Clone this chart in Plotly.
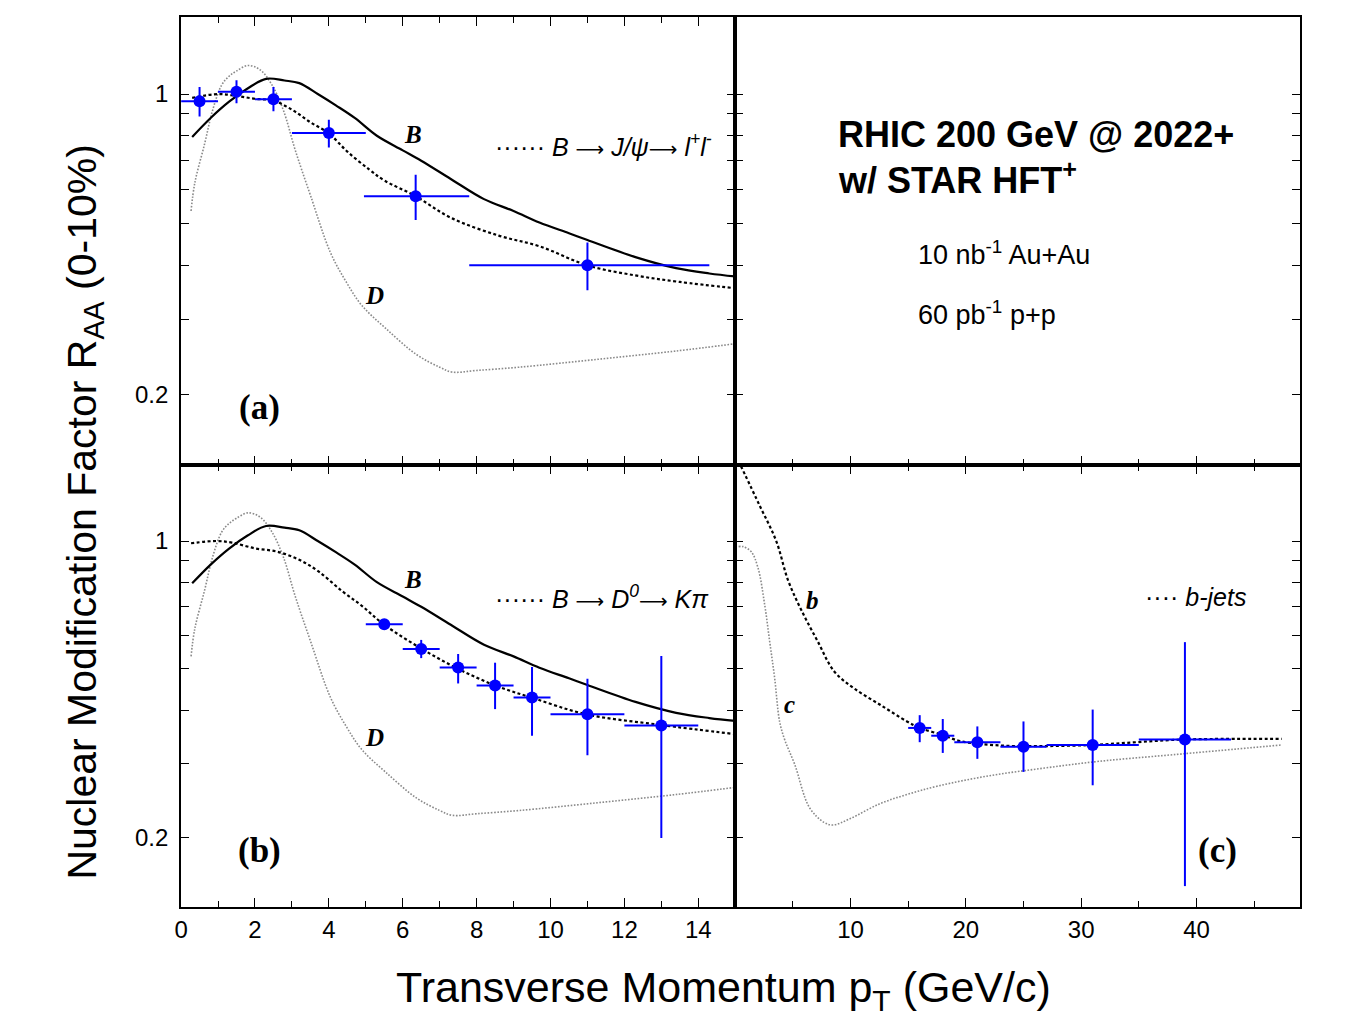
import math
import plotly.graph_objects as go

# ---------------- data ----------------
# theory curves, panels (a) and (b)
b_pt = [0.3, 0.8, 1.3, 1.8, 2.3, 2.8, 3.2, 3.7, 4.2, 4.7, 5.3, 6.0, 6.5, 7.3, 8.2, 9.0, 9.7, 10.5, 11.0, 12.3, 13.4, 14.3, 15.0]
b_raa = [0.795, 0.88, 0.96, 1.03, 1.085, 1.075, 1.06, 1.0, 0.94, 0.88, 0.80, 0.74, 0.70, 0.635, 0.57, 0.535, 0.503, 0.475, 0.458, 0.418, 0.394, 0.383, 0.377]

d_pt = [0.27, 0.37, 0.64, 0.85, 1.1, 1.3, 1.49, 1.81, 2.13, 2.45, 2.77, 3.09, 3.51, 4.04, 4.47, 4.89, 5.53, 6.38, 7.0, 7.34, 8.0, 9.15, 11.28, 13.4, 15.0]
d_raa = [0.535, 0.621, 0.768, 0.915, 1.05, 1.10, 1.13, 1.165, 1.14, 1.054, 0.916, 0.741, 0.579, 0.429, 0.366, 0.323, 0.286, 0.248, 0.232, 0.226, 0.228, 0.232, 0.242, 0.253, 0.263]

jpsi_pt = [0.3, 1.0, 1.5, 2.0, 2.5, 3.0, 3.5, 4.0, 4.5, 5.1, 5.5, 6.35, 7.3, 8.6, 9.7, 11.0, 12.3, 13.5, 15.0]
jpsi_raa = [0.98, 1.0, 0.99, 0.975, 0.965, 0.92, 0.86, 0.81, 0.735, 0.667, 0.63, 0.579, 0.516, 0.469, 0.443, 0.40, 0.379, 0.366, 0.354]

d0_pt = [0.27, 0.96, 1.38, 2.0, 2.6, 3.2, 3.72, 4.36, 4.9, 5.48, 6.49, 7.5, 8.5, 9.52, 10.96, 12.98, 15.0]
d0_raa = [0.988, 1.0, 0.991, 0.961, 0.944, 0.903, 0.848, 0.762, 0.703, 0.637, 0.559, 0.50, 0.457, 0.427, 0.391, 0.369, 0.351]

# theory curves, panel (c)
bjet_pt = [0.5, 2.1, 3.56, 4.57, 5.72, 7.16, 8.59, 10.3, 12.6, 14.9, 16.0, 17.9, 19.5, 23.0, 26.8, 31.0, 34.8, 38.9, 47.4]
bjet_raa = [1.5, 1.215, 1.0, 0.81, 0.689, 0.58, 0.493, 0.45, 0.411, 0.376, 0.363, 0.350, 0.338, 0.330, 0.329, 0.331, 0.336, 0.341, 0.342]

cjet_pt = [0.3, 0.69, 1.4, 1.98, 2.56, 2.99, 3.42, 3.85, 4.3, 5.16, 6.43, 7.7, 8.5, 9.94, 12.5, 15.0, 17.6, 22.0, 26.8, 31.6, 38.0, 47.4]
cjet_raa = [0.97, 0.97, 0.943, 0.864, 0.707, 0.58, 0.476, 0.376, 0.34, 0.298, 0.236, 0.2176, 0.2145, 0.2218, 0.2404, 0.2535, 0.265, 0.28, 0.292, 0.303, 0.314, 0.331]

# projected data points (a): B -> J/psi
a_pt = [0.5, 1.5, 2.5, 4.0, 6.35, 11.0]
a_raa = [0.962, 1.012, 0.972, 0.812, 0.579, 0.400]
a_xlo = [0.5, 0.5, 0.5, 1.0, 1.4, 3.2]
a_xhi = [0.5, 0.5, 0.5, 1.0, 1.45, 3.3]
a_ylow = [0.887, 0.952, 0.912, 0.751, 0.510, 0.350]
a_yhigh = [1.039, 1.077, 1.039, 0.872, 0.649, 0.452]

# (b): B -> D0
bp_pt = [5.5, 6.5, 7.5, 8.5, 9.5, 11.0, 13.0]
bp_raa = [0.637, 0.557, 0.504, 0.457, 0.428, 0.391, 0.368]
bp_xerr = [0.5, 0.5, 0.5, 0.5, 0.5, 1.0, 1.0]
bp_ylow = [0.62, 0.53, 0.462, 0.402, 0.348, 0.313, 0.200]
bp_yhigh = [0.654, 0.585, 0.542, 0.517, 0.505, 0.474, 0.536]

# (c): b-jets
cp_pt = [16, 18, 21, 25, 31, 39]
cp_raa = [0.363, 0.348, 0.336, 0.328, 0.331, 0.341]
cp_xerr = [1, 1, 2, 2, 4, 4]
cp_ylow = [0.336, 0.317, 0.307, 0.286, 0.266, 0.154]
cp_yhigh = [0.389, 0.381, 0.366, 0.376, 0.401, 0.578]

y_tickvals = [0.2, 0.3, 0.4, 0.5, 0.6, 0.7, 0.8, 0.9, 1.0]
y_ticktext = ["0.2", "", "", "", "", "", "", "", "1"]
left_xticks = [0, 2, 4, 6, 8, 10, 12, 14]
right_xticks = [10, 20, 30, 40]

# ---------------- figure ----------------
W, H = 1348, 1024
XL = [175 / W, 732 / W]
XR = [732 / W, 1300 / W]
YT = [1 - 465 / H, 1 - 17 / H]
YB = [1 - 907 / H, 1 - 465 / H]
YRANGE = [math.log10(0.1375), math.log10(1.51)]

BLUE = "#0000FF"
FONT = "Liberation Sans, Arial, sans-serif"
SERIF = "Liberation Serif, Times New Roman, serif"
ARROW = '<span style="font-family:DejaVu Sans;font-style:normal;font-size:20px">⟶</span>'

fig = go.Figure()


def curve(x, y, xa, ya, kind):
    if kind == "solid":
        line = dict(color="black", width=2.2)
    elif kind == "dot":
        line = dict(color="black", width=2.2, dash="3px,2.5px")
    else:
        line = dict(color="#8a8a8a", width=1.6, dash="1.6px,1.6px")
    fig.add_trace(go.Scatter(x=x, y=y, mode="lines", line=line, xaxis=xa, yaxis=ya,
                             showlegend=False, hoverinfo="skip", line_shape="spline"))


def points(x, y, xlo, xhi, ylow, yhigh, xa, ya):
    fig.add_trace(go.Scatter(
        x=x, y=y, mode="markers", xaxis=xa, yaxis=ya, showlegend=False,
        marker=dict(color=BLUE, size=12),
        error_x=dict(type="data", array=xhi, arrayminus=xlo, color=BLUE, thickness=2, width=0),
        error_y=dict(type="data", array=[h - v for h, v in zip(yhigh, y)],
                     arrayminus=[v - l for l, v in zip(ylow, y)], color=BLUE, thickness=2, width=0),
    ))


# panel (a)
curve(d_pt, d_raa, "x", "y", "gray")
curve(b_pt, b_raa, "x", "y", "solid")
curve(jpsi_pt, jpsi_raa, "x", "y", "dot")
points(a_pt, a_raa, a_xlo, a_xhi, a_ylow, a_yhigh, "x", "y")

# panel (b)
curve(d_pt, d_raa, "x3", "y3", "gray")
curve(b_pt, b_raa, "x3", "y3", "solid")
curve(d0_pt, d0_raa, "x3", "y3", "dot")
points(bp_pt, bp_raa, bp_xerr, bp_xerr, bp_ylow, bp_yhigh, "x3", "y3")

# panel (c)
curve(cjet_pt, cjet_raa, "x4", "y4", "gray")
curve(bjet_pt, bjet_raa, "x4", "y4", "dot")
points(cp_pt, cp_raa, cp_xerr, cp_xerr, cp_ylow, cp_yhigh, "x4", "y4")

# invisible anchor for empty top-right panel
fig.add_trace(go.Scatter(x=[None], y=[None], xaxis="x2", yaxis="y2", showlegend=False))

# ---------------- axes ----------------
axis_common = dict(showline=True, linewidth=2, linecolor="black", ticks="inside",
                   tickcolor="black", tickwidth=1.3, showgrid=False, zeroline=False,
                   tickfont=dict(family=FONT, size=24, color="black"))


def xaxis(domain, anchor, rng, tickvals, labels, dminor, mirror="ticks", showlabels=True):
    d = dict(axis_common)
    d.update(domain=domain, anchor=anchor, range=rng, mirror=mirror,
             tickmode="array", tickvals=tickvals, ticktext=labels, ticklen=9,
             showticklabels=showlabels,
             minor=dict(dtick=dminor, tick0=0, ticks="inside", ticklen=6, tickcolor="black", tickwidth=1.3))
    return d


def yaxis(domain, anchor, showlabels):
    d = dict(axis_common)
    d.update(domain=domain, anchor=anchor, type="log", range=YRANGE, mirror="ticks",
             tickmode="array", tickvals=y_tickvals, ticktext=y_ticktext, ticklen=8,
             showticklabels=showlabels, ticklabelstandoff=6,
             tickfont=dict(family=FONT, size=24, color="black"))
    return d


left_labels = [str(v) for v in left_xticks]
right_labels = [str(v) for v in right_xticks]

fig.update_layout(
    xaxis=xaxis(XL, "y", [0, 15], left_xticks, left_labels, 1, showlabels=False),
    yaxis=yaxis(YT, "x", True),
    xaxis2=xaxis(XR, "y2", [0, 49], right_xticks, right_labels, 5, mirror=True, showlabels=False),
    yaxis2=yaxis(YT, "x2", False),
    xaxis3=xaxis(XL, "y3", [0, 15], left_xticks, left_labels, 1),
    yaxis3=yaxis(YB, "x3", True),
    xaxis4=xaxis(XR, "y4", [0, 49], right_xticks, right_labels, 5),
    yaxis4=yaxis(YB, "x4", False),
)

# reference lines at R_AA = 1
for xr, yr in [("x", "y"), ("x3", "y3"), ("x4", "y4")]:
    fig.add_shape(type="line", xref=f"{xr} domain", yref=yr, x0=0, x1=1, y0=0, y1=0,
                  line=dict(color="black", width=1.8, dash="3px,2.5px"), layer="below")

# ---------------- annotations ----------------
ann = []


def txt(text, x, y, xref, yref, size, family=FONT, xanchor="center", yanchor="middle", angle=0):
    ann.append(dict(text=text, x=x, y=y, xref=xref, yref=yref, showarrow=False,
                    font=dict(family=family, size=size, color="black"),
                    xanchor=xanchor, yanchor=yanchor, textangle=angle))


L = math.log10
# curve labels
txt("<b><i>B</i></b>", 6.27, L(0.807), "x", "y", 25, SERIF)
txt("<b><i>D</i></b>", 5.24, L(0.341), "x", "y", 25, SERIF)
txt("<b><i>B</i></b>", 6.27, L(0.81), "x3", "y3", 25, SERIF)
txt("<b><i>D</i></b>", 5.24, L(0.344), "x3", "y3", 25, SERIF)
txt("<b><i>b</i></b>", 6.7, -0.139, "x4", "y4", 25, SERIF)
txt("<b><i>c</i></b>", 4.7, -0.386, "x4", "y4", 25, SERIF)
# panel labels
txt("<b>(a)</b>", 2.12, -0.729, "x", "y", 35, SERIF)
txt("<b>(b)</b>", 2.12, -0.729, "x3", "y3", 35, SERIF)
txt("<b>(c)</b>", 41.8, -0.729, "x4", "y4", 35, SERIF)
# legends
txt("······ <i>B " + ARROW + " J/ψ" + ARROW + " l<sup>+</sup>l<sup>-</sup></i>", 8.45, -0.118, "x", "y", 25, xanchor="left")
txt("······ <i>B " + ARROW + " D<sup>0</sup>" + ARROW + " Kπ</i>", 8.45, -0.1318, "x3", "y3", 25, xanchor="left")
txt("···· <i>b-jets</i>", 35.4, -0.1318, "x4", "y4", 25, xanchor="left")
# top-right text
txt("<b>RHIC 200 GeV @ 2022+</b>", 833 / W, 1 - 134 / H, "paper", "paper", 36, xanchor="left")
txt("<b>w/ STAR HFT<sup>+</sup></b>", 833 / W, 1 - 178 / H, "paper", "paper", 36, xanchor="left")
txt("10 nb<sup>-1</sup> Au+Au", 914 / W, 1 - 253 / H, "paper", "paper", 27, xanchor="left")
txt("60 pb<sup>-1</sup> p+p", 914 / W, 1 - 313 / H, "paper", "paper", 27, xanchor="left")
# axis titles
txt("Nuclear Modification Factor R<sub>AA</sub> (0-10%)", 78 / W, 1 - 512 / H, "paper", "paper", 41, angle=-90)
txt("Transverse Momentum p<sub>T</sub> (GeV/c)", 720 / W, 1 - 990 / H, "paper", "paper", 43)

fig.update_layout(
    annotations=ann,
    width=W, height=H,
    margin=dict(l=0, r=0, t=0, b=0),
    paper_bgcolor="white", plot_bgcolor="white",
    showlegend=False,
)

fig.write_html("out.html")
